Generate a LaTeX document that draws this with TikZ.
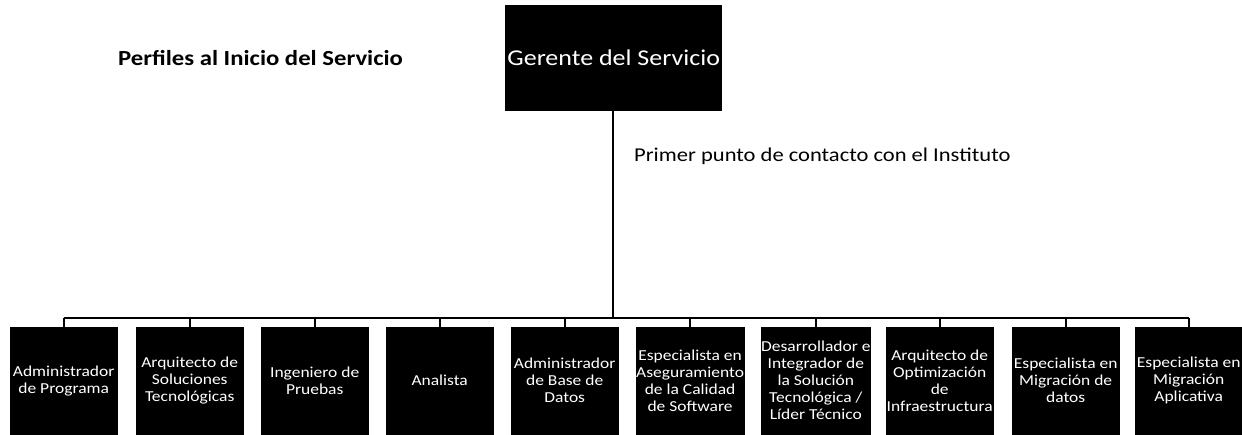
\documentclass[tikz,border=0pt]{standalone}
\usepackage{fontspec}
\setmainfont{Carlito}[FakeStretch=1.15]
\begin{document}
\begin{tikzpicture}[x=1pt,y=-1pt,
  rolebox/.style={fill=black,draw=black,text=white,minimum width=107pt,minimum height=107pt,inner sep=0pt,align=center,font=\fontsize{15.2}{17}\selectfont,anchor=north west},
  link/.style={draw=black,line width=1.6pt}]
\useasboundingbox (0,0) rectangle (1242,434);
\fill[white] (0,0) rectangle (1242,434);
\node[fill=black,minimum width=217pt,minimum height=106pt,inner sep=0pt,anchor=north west,text=white,font=\fontsize{22.6}{26}\selectfont] (top) at (505,5) {Gerente del Servicio};
\node[anchor=west,inner sep=0pt,font=\bfseries\fontsize{21.5}{24}\selectfont] (title) at (118,58) {Perfiles al Inicio del Servicio};
\node[anchor=west,inner sep=0pt,font=\fontsize{19.6}{22}\selectfont] (note) at (634,156) {Primer punto de contacto con el Instituto};
\node[rolebox] (b1) at (10,327) {Administrador\\de Programa};
\node[rolebox] (b2) at (136,327) {Arquitecto de\\Soluciones\\Tecnológicas};
\node[rolebox] (b3) at (261,327) {Ingeniero de\\Pruebas};
\node[rolebox] (b4) at (386,327) {Analista};
\node[rolebox] (b5) at (511,327) {Administrador\\de Base de\\Datos};
\node[rolebox] (b6) at (636,327) {Especialista en\\Aseguramiento\\de la Calidad\\de Software};
\node[rolebox] (b7) at (761,327) {Desarrollador e\\Integrador de\\la Solución\\Tecnológica /\\Líder Técnico};
\node[rolebox] (b8) at (886,327) {Arquitecto de\\Optimización\\de\\Infraestructura};
\node[rolebox] (b9) at (1012,327) {Especialista en\\Migración de\\datos};
\node[rolebox] (b10) at (1135,327) {Especialista en\\Migración\\Aplicativa};
\coordinate (hub) at (613,318);
\draw[link,line width=2pt] (top.south -| hub) -- (hub);
\foreach \i in {1,...,10}{
  \coordinate (j\i) at (b\i.north |- hub);
  \draw[link] (j\i) -- (b\i.north);
}
\draw[link] (j1) -- (j10);
\end{tikzpicture}
\end{document}
